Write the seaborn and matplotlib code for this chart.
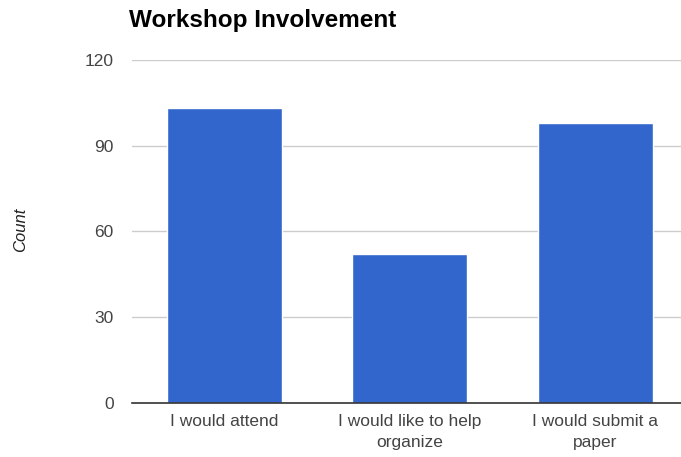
import matplotlib
matplotlib.use("Agg")
import matplotlib.pyplot as plt
import seaborn as sns
import pandas as pd

categories = ["I would attend", "I would like to help\norganize", "I would submit a\npaper"]
counts = [103, 52, 98]
y_ticks = [0, 30, 60, 90, 120]

sns.set_style("white")
plt.rcParams['font.family'] = ['Liberation Sans', 'DejaVu Sans']

df = pd.DataFrame({"category": categories, "count": counts})

fig = plt.figure(figsize=(6.81, 4.57), dpi=100)
ax = fig.add_axes([0.1935, 0.118, 0.817, 0.751])
sns.barplot(data=df, x="category", y="count", color="#3366cc", width=0.62,
            saturation=1, ax=ax)

ax.set_ylim(0, 120)
ax.set_yticks(y_ticks)
ax.yaxis.grid(True, color="#cccccc", linewidth=1)
ax.set_axisbelow(True)
for s in ["top", "right", "left"]:
    ax.spines[s].set_visible(False)
ax.spines["bottom"].set_color("#333333")
ax.spines["bottom"].set_linewidth(1.2)
ax.tick_params(axis="both", length=0, labelsize=12.5, labelcolor="#444444")
ax.tick_params(axis="y", pad=13)
ax.tick_params(axis="x", pad=8)
for lbl in ax.get_xticklabels():
    lbl.set_linespacing(1.5)
ax.set_xlabel("")
ax.set_ylabel("")

fig.text(21 / 681, 1 - 230 / 457, "Count", rotation=90, style="italic",
         fontsize=12, color="#222222", ha="center", va="center")
fig.text(129 / 681, 1 - 21 / 457, "Workshop Involvement", fontsize=17.5,
         fontweight="bold", color="#000000", va="center", ha="left")

fig.savefig("out.png", dpi=100)
